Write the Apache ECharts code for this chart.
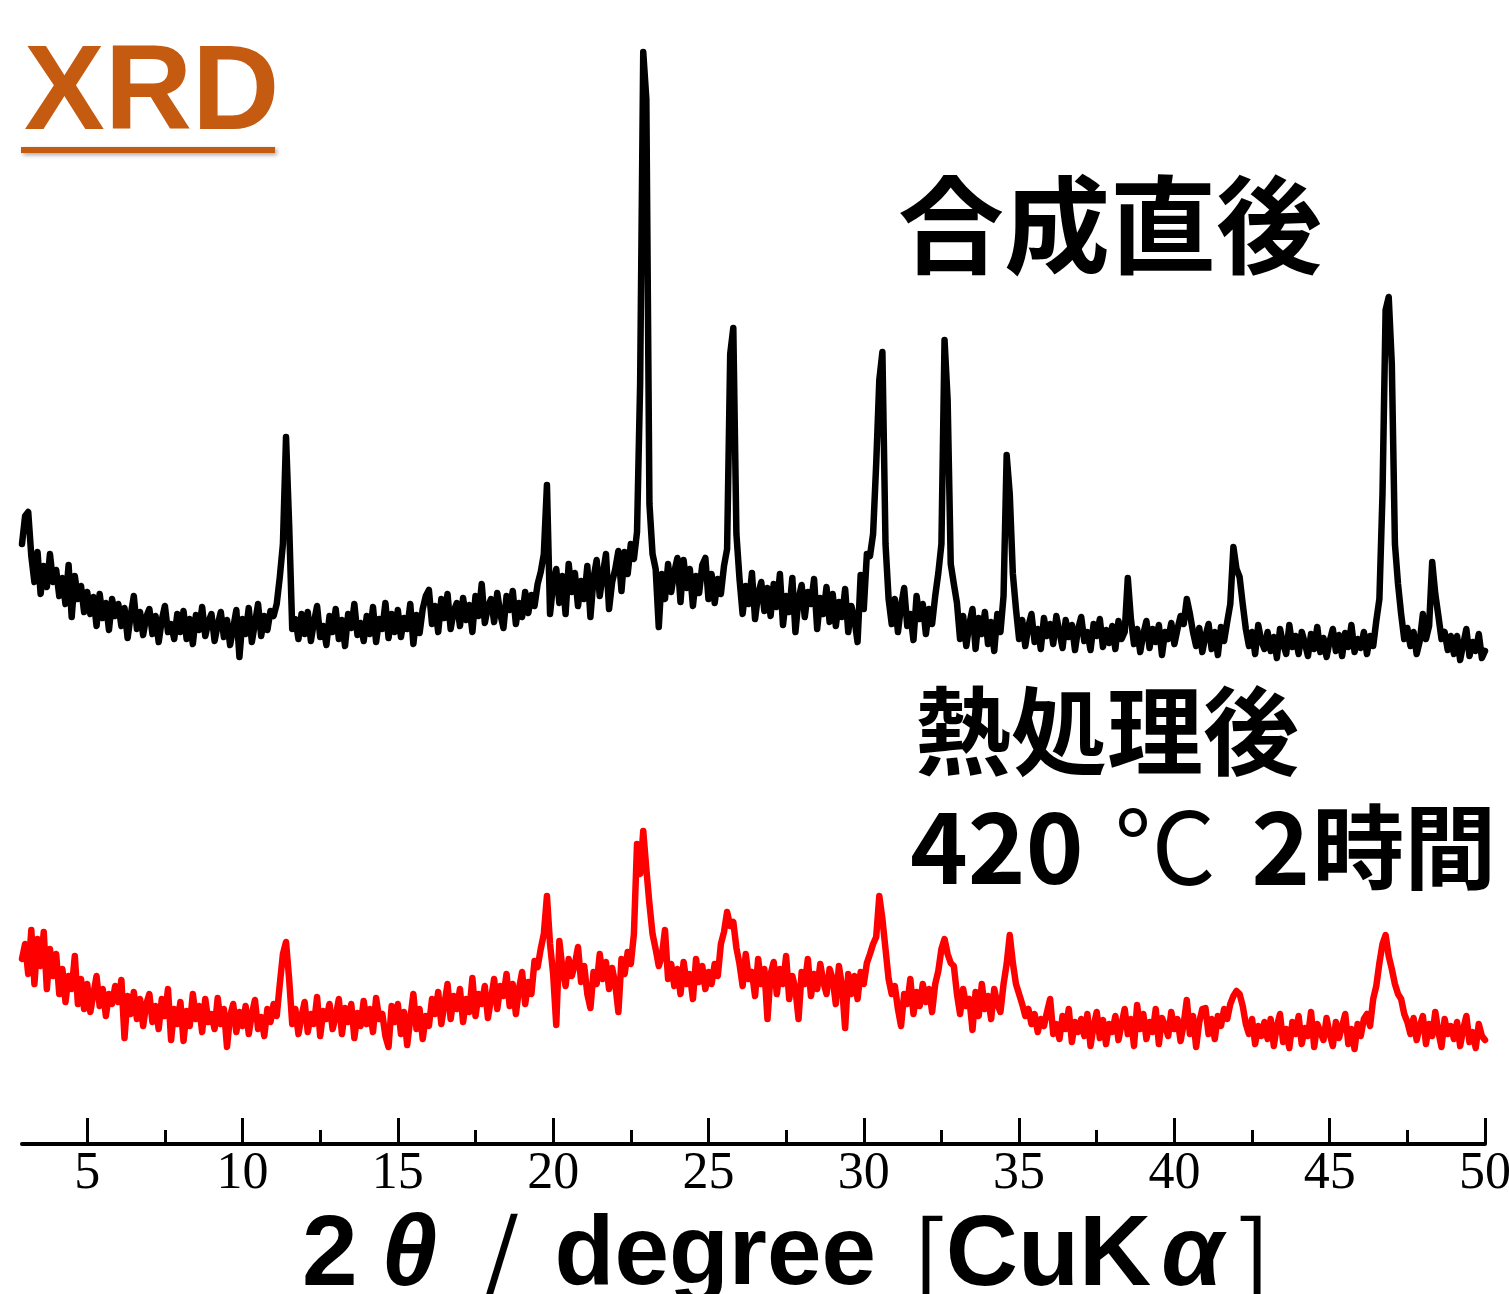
<!DOCTYPE html>
<html>
<head>
<meta charset="utf-8">
<script src="https://cdn.jsdelivr.net/npm/echarts@6/dist/echarts.min.js"></script>
<style>
html,body{margin:0;padding:0;background:#ffffff;}
#chart{width:1509px;height:1294px;}
</style>
</head>
<body>
<div id="chart"></div>
<script>
// 2θ sampling grid (degrees): first angle and step
const angleStart = 2.9;
const angleStep = 0.1;

// Intensity (a.u., stacked plot) of the as-synthesized sample, 2.9° … 50.0°
const asSynthesized = [
600,
628,632,588,562,592,550,578,557,590,562,
574,548,566,540,579,527,568,545,558,532,
552,530,547,518,550,526,541,514,545,528,
540,518,536,506,529,548,515,532,509,527,
535,510,528,502,524,538,512,520,505,530,
512,533,505,525,500,529,514,537,508,522,
530,503,519,532,507,524,499,516,534,487,
525,510,536,502,521,540,508,528,514,533,
528,540,567,600,707,620,515,525,505,530,
510,532,503,522,538,507,518,499,528,512,
535,505,524,498,530,516,540,509,521,503,
528,510,537,502,525,515,541,506,530,512,
534,507,526,515,540,500,529,511,535,548,
554,520,538,512,545,526,550,515,533,541,
518,546,524,539,512,548,528,560,521,537,
545,522,551,530,516,548,534,553,520,541,
527,552,531,549,538,560,572,590,659,530,
560,575,541,568,530,580,552,571,538,563,
545,578,527,566,584,548,570,590,535,562,
575,593,553,592,570,600,585,612,760,1092,
1045,640,590,575,517,570,545,580,552,572,
586,542,584,556,575,538,568,551,579,586,
545,570,541,565,550,578,595,790,816,610,
565,530,558,540,571,525,550,562,533,556,
528,560,537,570,519,548,532,566,512,545,
559,527,552,540,565,515,546,530,557,522,
550,518,542,527,555,512,538,525,502,569,
535,590,588,610,680,764,792,600,545,520,
545,512,538,556,518,530,504,548,525,540,
510,535,520,548,571,600,804,744,580,560,
541,505,528,498,520,535,495,526,510,532,
500,522,493,530,512,548,689,650,570,535,
505,524,498,518,530,502,515,495,526,508,
520,500,528,512,496,524,507,519,494,515,
527,503,512,494,520,508,525,497,514,501,
518,495,523,505,512,566,525,500,515,492,
510,523,496,515,502,519,489,512,505,521,
500,515,528,520,545,530,512,498,516,492,
508,520,495,512,489,517,503,522,540,597,
575,567,540,515,498,512,490,519,503,495,
512,493,507,486,515,500,490,519,497,508,
490,512,501,488,510,495,517,492,506,487,
503,515,493,509,488,511,497,519,492,505,
496,512,490,508,498,523,545,650,834,847,
780,600,560,530,505,516,498,512,490,503,
530,505,518,582,550,528,505,512,494,508,
490,508,484,500,515,488,502,493,510,486,
493
];

// Intensity (a.u., stacked plot) after heat treatment 420 °C / 2 h, 2.9° … 50.0°
const afterAnneal = [
185,
200,170,214,160,205,178,212,155,195,168,
190,150,175,142,168,155,188,140,165,135,
160,132,150,168,138,155,128,150,140,158,
142,164,106,148,130,152,125,145,118,140,
150,122,138,115,145,128,155,104,135,120,
142,103,133,118,150,125,138,112,145,122,
130,115,146,120,135,97,128,140,112,132,
118,138,110,130,144,115,127,108,135,122,
140,128,160,190,202,165,120,135,110,128,
142,112,130,120,147,108,133,125,140,115,
128,145,110,136,122,140,106,131,118,143,
120,135,112,146,125,130,108,97,138,122,
140,110,132,99,125,150,115,135,105,128,
118,145,130,152,120,140,160,125,148,135,
155,122,145,132,166,128,150,140,158,126,
145,165,135,158,148,170,138,160,130,155,
172,140,162,150,183,177,195,210,248,200,
170,119,203,175,158,185,168,180,197,162,
178,150,136,172,160,190,165,182,155,176,
160,132,185,170,192,180,210,300,270,313,
275,240,210,195,178,188,214,165,180,158,
175,150,182,160,170,145,185,162,178,155,
172,160,180,168,200,212,232,218,222,196,
180,158,190,165,172,148,185,160,175,125,
170,182,150,175,160,188,145,168,155,125,
172,160,185,148,170,155,180,162,150,175,
165,140,178,158,116,170,150,168,145,172,
160,181,190,200,207,248,225,195,165,150,
158,135,118,150,140,165,130,152,138,160,
142,155,132,160,173,195,205,190,181,178,
150,130,155,138,145,114,152,128,160,135,
148,125,155,140,132,160,180,209,181,160,
150,140,128,135,120,130,112,125,118,132,
145,110,120,105,128,115,135,102,122,112,
125,108,130,98,118,132,106,124,100,120,
112,128,104,120,135,110,125,98,139,115,
130,105,122,112,135,100,126,118,108,132,
115,125,103,120,144,110,128,97,122,135,
136,110,125,105,128,118,135,125,140,148,
153,150,138,120,110,125,100,118,108,122,
105,125,98,118,130,102,115,96,122,110,
128,100,116,108,132,97,120,112,104,126,
110,98,122,106,118,130,100,115,95,120,
108,125,130,118,145,158,181,200,209,188,
175,160,150,145,130,122,110,126,104,118,
128,100,120,108,132,112,97,125,110,118,
105,122,98,115,128,102,112,96,120,108,
104
];

// Axis ticks (degrees)
const majorTicks = [5, 10, 15, 20, 25, 30, 35, 40, 45, 50];
const minorTicks = [7.5, 12.5, 17.5, 22.5, 27.5, 32.5, 37.5, 42.5, 47.5];

// Texts
const titleText = 'XRD';
const labelAsSynth = '合成直後';
const labelAnneal = '熱処理後';
const labelCondition = '{a|420}{b|°}{c|C}{d|2}{e|時間}'; // 420 °C 2時間

const toPairs = arr => arr.map((v, i) => [Math.round((angleStart + i * angleStep) * 10) / 10, v]);

const chart = echarts.init(document.getElementById('chart'), null, {renderer: 'canvas'});

const latin = '"Liberation Sans", "Noto Sans CJK JP", sans-serif';
const cjk = '"Noto Sans CJK JP", sans-serif';

chart.setOption({
  animation: false,
  backgroundColor: '#ffffff',
  grid: {left: 22, right: 24, top: 0, bottom: 150, containLabel: false, outerBoundsMode: 'none'},
  xAxis: [
    {
      type: 'value', min: 2.9, max: 50, position: 'bottom',
      axisLine: {show: true, onZero: false, lineStyle: {color: '#000', width: 4}},
      axisTick: {show: true, inside: true, length: 26, customValues: majorTicks, lineStyle: {color: '#000', width: 3}},
      axisLabel: {show: true, customValues: majorTicks, margin: 4, color: '#000',
        fontFamily: '"Liberation Serif", serif', fontSize: 52},
      splitLine: {show: false},
      name: '{n|2}{g|θ}{s|/}{d|degree}{b|[}{c|CuK}{a|α}{e|]}',
      nameLocation: 'middle',
      nameGap: 56,
      nameTextStyle: {
        padding: [0, 0, 0, 66],
        rich: {
          n: {fontFamily: latin, fontWeight: 'bold', fontSize: 100, color: '#000'},
          g: {fontFamily: latin, fontWeight: 'bold', fontStyle: 'italic', fontSize: 100, color: '#000', padding: [0, 0, 0, 24]},
          s: {fontFamily: cjk, fontWeight: 'normal', fontSize: 105, color: '#000', padding: [0, 0, 0, 41]},
          d: {fontFamily: latin, fontWeight: 'bold', fontSize: 98, color: '#000', padding: [0, 0, 0, 35]},
          b: {fontFamily: cjk, fontWeight: 'normal', fontSize: 100, color: '#000', padding: [0, 0, 0, 36]},
          c: {fontFamily: latin, fontWeight: 'bold', fontSize: 100, color: '#000', padding: [0, 0, 0, 0]},
          a: {fontFamily: latin, fontWeight: 'bold', fontStyle: 'italic', fontSize: 100, color: '#000', padding: [0, 0, 0, 10]},
          e: {fontFamily: cjk, fontWeight: 'normal', fontSize: 100, color: '#000', padding: [0, 0, 0, 14]}
        }
      }
    },
    {
      type: 'value', min: 2.9, max: 50, position: 'bottom',
      axisLine: {show: false, onZero: false},
      axisTick: {show: true, inside: true, length: 14, customValues: minorTicks, lineStyle: {color: '#000', width: 3}},
      axisLabel: {show: false},
      splitLine: {show: false}
    }
  ],
  yAxis: {type: 'value', min: 0, max: 1144, show: false},
  series: [
    {
      name: labelAsSynth, type: 'line', xAxisIndex: 0, data: toPairs(asSynthesized),
      showSymbol: false, symbol: 'none', lineStyle: {color: '#000000', width: 6.5, join: 'round', cap: 'round'},
      itemStyle: {color: '#000000'}, z: 3
    },
    {
      name: labelAnneal, type: 'line', xAxisIndex: 0, data: toPairs(afterAnneal),
      showSymbol: false, symbol: 'none', lineStyle: {color: '#ff0000', width: 6.5, join: 'round', cap: 'round'},
      itemStyle: {color: '#ff0000'}, z: 2
    }
  ],
  graphic: [
    {
      type: 'text', x: 24, y: 96,
      style: {
        text: titleText, fill: '#C55A11',
        font: 'bold 121px "Liberation Sans", sans-serif',
        textAlign: 'left', textVerticalAlign: 'middle',
        shadowBlur: 4, shadowColor: 'rgba(0,0,0,0.35)', shadowOffsetX: 2, shadowOffsetY: 2
      }
    },
    {
      type: 'rect', x: 21, y: 147,
      shape: {width: 254, height: 6},
      style: {fill: '#C55A11', shadowBlur: 4, shadowColor: 'rgba(0,0,0,0.35)', shadowOffsetX: 2, shadowOffsetY: 2}
    },
    {
      type: 'text', x: 898, y: 225,
      style: {text: labelAsSynth, fill: '#000', font: 'bold 106px "Noto Sans CJK JP", sans-serif',
        textAlign: 'left', textVerticalAlign: 'middle'}
    },
    {
      type: 'text', x: 915, y: 731,
      style: {text: labelAnneal, fill: '#000', font: 'bold 96px "Noto Sans CJK JP", sans-serif',
        textAlign: 'left', textVerticalAlign: 'middle'}
    },
    {
      type: 'text', x: 910, y: 847,
      style: {
        text: labelCondition, fill: '#000', textAlign: 'left', textVerticalAlign: 'middle',
        rich: {
          a: {fontFamily: cjk, fontWeight: 'bold', fontSize: 98, fill: '#000'},
          b: {fontFamily: cjk, fontWeight: 'normal', fontSize: 100, fill: '#000', padding: [0, 0, 0, 31]},
          c: {fontFamily: cjk, fontWeight: 'normal', fontSize: 100, fill: '#000'},
          d: {fontFamily: cjk, fontWeight: 'bold', fontSize: 100, fill: '#000', padding: [0, 0, 0, 36]},
          e: {fontFamily: cjk, fontWeight: 'bold', fontSize: 92, fill: '#000', padding: [0, 0, 0, 2]}
        }
      }
    }
  ]
});
</script>
</body>
</html>
